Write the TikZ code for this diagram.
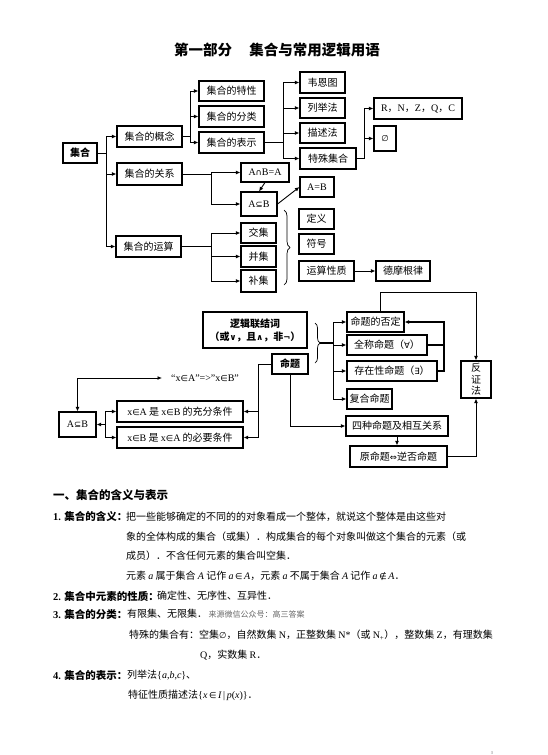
\documentclass[tikz,border=0pt]{standalone}
\usepackage{fontspec}
\setmainfont{Noto Sans CJK SC}
\newfontfamily\lat{Liberation Serif}
\newfontfamily\symf{DejaVu Sans}[Scale=0.85]
\usetikzlibrary{arrows.meta,decorations.pathreplacing}
\newcommand\la[1]{{\lat #1}}
\newcommand\li[1]{{\lat\itshape #1}}
\newcommand\sy[1]{{\symf #1}}
\begin{document}
\begin{tikzpicture}[x=1pt,y=-1pt,
  box/.style={draw, line width=1.1pt, inner sep=0pt, align=center, font=\fontsize{10}{12}\selectfont},
  bbox/.style={box, font=\fontsize{10}{13}\selectfont\bfseries},
  sz/.style 2 args={minimum width=#1pt, minimum height=#2pt},
  tip/.tip={Latex[length=4.5pt,width=4pt]},
  arr/.style={-tip, line width=0.9pt},
  ln/.style={line width=0.9pt},
  brc/.style={decorate, decoration={brace, amplitude=#1}, line width=0.7pt},
  lab/.style={anchor=west, inner sep=0pt, font=\fontsize{10.5}{12}\selectfont\bfseries},
  body/.style={anchor=west, inner sep=0pt, font=\fontsize{10}{12}\selectfont}]
\useasboundingbox (0,0) rectangle (547,755);

% title
\node[font=\fontsize{14.5}{16}\selectfont\bfseries] (title) at (277,50) {第一部分\hspace{1.2em}集合与常用逻辑用语};

% ---------- first diagram ----------
\node[bbox, sz={34}{20}] (jihe) at (80,153) {集合};
\node[box, sz={65}{21}] (gainian) at (149.5,136.5) {集合的概念};
\node[box, sz={65}{20}] (texing) at (231.5,91) {集合的特性};
\node[box, sz={65}{21}] (fenlei) at (231.5,116.5) {集合的分类};
\node[box, sz={65}{21}] (biaoshi) at (231.5,142.5) {集合的表示};
\node[box, sz={45}{21}] (weien) at (322.5,82.5) {韦恩图};
\node[box, sz={45}{20}] (liju) at (322.5,108) {列举法};
\node[box, sz={45}{20}] (miaoshu) at (322.5,133) {描述法};
\node[box, sz={56}{21}] (teshu) at (328,158.5) {特殊集合};
\node[box, sz={88}{21}] (rnzqc) at (418,108.5) {\la{R}，\la{N}，\la{Z}，\la{Q}，\la{C}};
\node[box, sz={22}{25}] (empty) at (385,138.5) {\sy{∅}};
\node[box, sz={65}{22}] (guanxi) at (149.5,174) {集合的关系};
\node[box, sz={48}{19}] (acapb) at (265,172.5) {\la{A}\sy{∩}\la{B=A}};
\node[box, sz={36}{24}] (asubb) at (259,204) {\la{A}\sy{⊆}\la{B}};
\node[box, sz={34}{20}] (aeqb) at (317,187) {\la{A=B}};
\node[box, sz={65}{21}] (yunsuan) at (148.5,246.5) {集合的运算};
\node[box, sz={35}{20}] (jiaoji) at (258.5,233) {交集};
\node[box, sz={35}{21}] (bingji) at (258.5,256.5) {并集};
\node[box, sz={35}{22}] (buji) at (258.5,281) {补集};
\node[box, sz={35}{20}] (dingyi) at (316.5,219) {定义};
\node[box, sz={35}{20}] (fuhao) at (316.5,244) {符号};
\node[box, sz={55}{20}] (xingzhi) at (326.5,271) {运算性质};
\node[box, sz={54}{20}] (demogen) at (403,271) {德摩根律};

\coordinate (t1) at (106,0);
\coordinate (t2) at (190,0);
\coordinate (t3) at (283,0);
\coordinate (t4) at (364,0);
\coordinate (t5) at (211,0);

\draw[ln] (jihe.east) -- (jihe.east -| t1);
\draw[ln] (gainian.west -| t1) -- (yunsuan.west -| t1);
\foreach \n in {gainian,guanxi,yunsuan} \draw[arr] (\n.west -| t1) -- (\n.west);

\draw[ln] (gainian.east) -- (gainian.east -| t2);
\draw[ln] (texing.west -| t2) -- (biaoshi.west -| t2);
\foreach \n in {texing,fenlei,biaoshi} \draw[arr] (\n.west -| t2) -- (\n.west);

\draw[line width=1.3pt] (biaoshi.east) -- (biaoshi.east -| t3);
\draw[ln] (weien.west -| t3) -- (teshu.west -| t3);
\foreach \n in {weien,liju,miaoshu,teshu} \draw[arr] (\n.west -| t3) -- (\n.west);

\draw[ln] (teshu.east) -- (teshu.east -| t4) -- (rnzqc.west -| t4);
\foreach \n in {rnzqc,empty} \draw[arr] (\n.west -| t4) -- (\n.west);

\draw[ln] (guanxi.east) -- (guanxi.east -| t5);
\draw[ln] (acapb.west -| t5) -- (asubb.west -| t5);
\foreach \n in {acapb,asubb} \draw[arr] (\n.west -| t5) -- (\n.west);

\draw[ln] (yunsuan.east) -- (yunsuan.east -| t5);
\draw[ln] (jiaoji.west -| t5) -- (buji.west -| t5);
\foreach \n in {jiaoji,bingji,buji} \draw[arr] (\n.west -| t5) -- (\n.west);

\draw[arr] (acapb.south) -- (asubb.north);
\draw[arr] (asubb.east) -- (aeqb.west);
\draw[arr] (xingzhi.east) -- (demogen.west);

\draw[brc=6pt] (284,210) -- (284,285);

% ---------- second diagram ----------
\node[bbox, sz={104}{36}] (luoji) at (255,330) {逻辑联结词\\（或\sy{∨}，且\sy{∧}，非\sy{¬}）};
\node[bbox, sz={36}{20}] (mingti) at (290,364) {命题};
\node[box, sz={57}{20}] (fouding) at (375.5,322) {命题的否定};
\node[box, sz={80}{20}] (quancheng) at (387,345) {全称命题（\sy{∀}）};
\node[box, sz={90}{20}] (cunzai) at (392,371) {存在性命题（\sy{∃}）};
\node[box, sz={45}{20}] (fuhe) at (369.5,399) {复合命题};
\node[box, sz={102}{20}] (sizhong) at (397,426) {四种命题及相互关系};
\node[box, sz={97}{21}] (yuan) at (398.5,456.5) {原命题\sy{⇔}逆否命题};
\node[box, sz={30}{37}, font=\fontsize{10}{11.5}\selectfont] (fanzheng) at (476,379.5) {反\\证\\法};
\node[box, sz={126}{21}] (chongfen) at (180,411.5) {\la{x}\sy{∈}\la{A} 是 \la{x}\sy{∈}\la{B} 的充分条件};
\node[box, sz={126}{21}] (biyao) at (180,437.5) {\la{x}\sy{∈}\la{B} 是 \la{x}\sy{∈}\la{A} 的必要条件};
\node[box, sz={37}{25}] (asubb2) at (77.5,424.5) {\la{A}\sy{⊆}\la{B}};
\node[anchor=west, inner sep=0pt, font=\fontsize{10}{12}\selectfont] (xab) at (171,378) {\la{“x}\sy{∈}\la{A”=>”x}\sy{∈}\la{B”}};

\draw[brc=5pt] (315,323) -- (315,363);
\coordinate (b2) at (320,343);
\coordinate (t6) at (333,0);
\coordinate (t7) at (444,0);
\coordinate (t9) at (258,0);
\coordinate (t10) at (105,0);

\draw[line width=1.2pt] (b2) -- (b2 -| t6);
\draw[ln] (fouding.west -| t6) -- (fuhe.west -| t6);
\foreach \n in {fouding,quancheng,cunzai,fuhe} \draw[arr] (\n.west -| t6) -- (\n.west);

\draw[arr] ([xshift=4.5pt]fouding.north) -- ++(0,-19) -| (fanzheng.north);
\draw[arr] (yuan.east) -| (fanzheng.south);
\draw[line width=1.2pt] (quancheng.east) -- (quancheng.east -| t7);
\draw[-tip, line width=1.2pt] (cunzai.east) -- (cunzai.east -| t7) -- (fouding.east -| t7) -- (fouding.east);
\draw[arr] (sizhong.south) -- (sizhong.south |- yuan.north);
\draw[arr] (mingti.south) |- (sizhong.west);

\draw[ln] (mingti.west) -- (mingti.west -| t9) -- (biyao.east -| t9);
\foreach \n in {chongfen,biyao} \draw[arr] (\n.east -| t9) -- (\n.east);

\draw[arr] (asubb2.east -| t10) -- (asubb2.east);
\draw[ln] (chongfen.west -| t10) -- (biyao.west -| t10);
\foreach \n in {chongfen,biyao} \draw[arr] (\n.west -| t10) -- (\n.west);
\draw[tip-tip, ln, shorten >=9pt] (asubb2.north) |- (xab.west);

% ---------- text ----------
\node[anchor=west, inner sep=0pt, font=\fontsize{11.5}{13}\selectfont\bfseries] (h1) at (53,495) {一、集合的含义与表示};
\node[lab] (l1) at (53,516.7) {{\lat\bfseries 1.} 集合的含义：};
\node[body] (b1) at (126,516.7) {把一些能够确定的不同的的对象看成一个整体，就说这个整体是由这些对};
\node[body] (b2t) at (126,536.7) {象的全体构成的集合（或集）．构成集合的每个对象叫做这个集合的元素（或};
\node[body] (b3) at (126,556) {成员）．不含任何元素的集合叫空集．};
\node[body] (b4) at (126,575.7) {元素 \li{a} 属于集合 \li{A} 记作 \li{a}\,\sy{∈}\,\li{A}，元素 \li{a} 不属于集合 \li{A} 记作 \li{a}\,\sy{∉}\,\li{A}．};
\node[lab] (l2) at (53,596) {{\lat\bfseries 2.} 集合中元素的性质：};
\node[body] (b5) at (157,596) {确定性、无序性、互异性．};
\node[lab] (l3) at (53,614) {{\lat\bfseries 3.} 集合的分类：};
\node[body] (b6) at (127,614) {有限集、无限集．};
\node[anchor=west, inner sep=0pt, font=\fontsize{8}{10}\selectfont, text=black!60] (src) at ([xshift=1pt]b6.east) {来源微信公众号：高三答案};
\node[body] (b7) at (129,635) {特殊的集合有：空集\sy{∅}，自然数集 \la{N}，正整数集 \la{N*}（或 \la{N}\textsubscript{\lat +}），整数集 \la{Z}，有理数集};
\node[body] (b8) at (200,655) {\la{Q}，实数集 \la{R}．};
\node[lab] (l4) at (53,675) {{\lat\bfseries 4.} 集合的表示：};
\node[body] (b9) at (127,675) {列举法\la{\{}\li{a}\la{,}\li{b}\la{,}\li{c}\la{\}}、};
\node[body] (b10) at (128,695) {特征性质描述法\la{\{}\li{x}\,\sy{∈}\,\li{I}\,\la{|}\,\li{p}\la{(}\li{x}\la{)\}}．};
\node[font=\fontsize{4}{5}\selectfont, text=black!50, inner sep=0pt] (pg) at (492,753) {3};
\end{tikzpicture}
\end{document}
